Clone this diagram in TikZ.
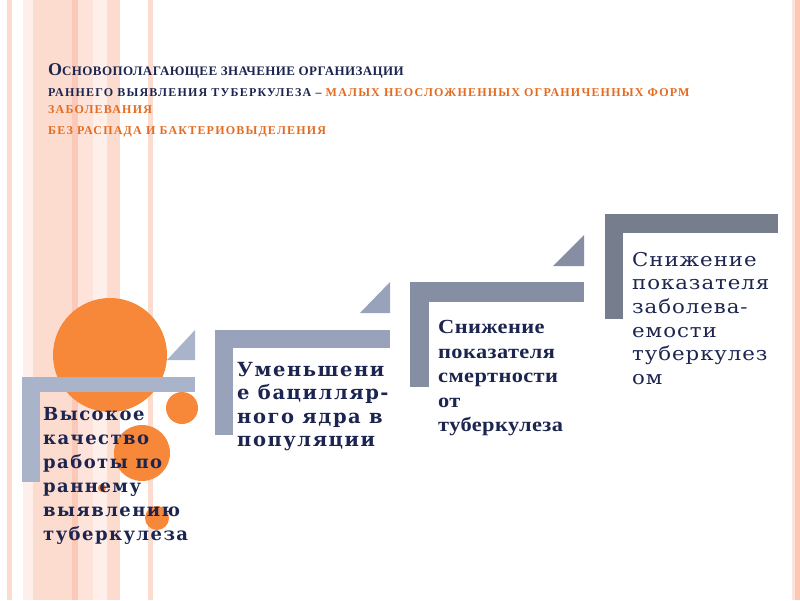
\documentclass[tikz,border=0pt]{standalone}
\usepackage{fontspec}
\setmainfont{Liberation Serif}
\newfontfamily\ttlbig[LetterSpace=3]{Liberation Serif}
\newfontfamily\ttlsmall[LetterSpace=10]{Liberation Serif}
\newfontfamily\stepAfont[LetterSpace=8]{DejaVu Serif}
\newfontfamily\stepCfont[FakeStretch=1.12,LetterSpace=2]{Liberation Serif}
\newfontfamily\stepDfont[FakeStretch=1.12,LetterSpace=5]{DejaVu Serif}
\definecolor{pkA}{HTML}{FDDCD0}
\definecolor{pkB}{HTML}{FCC9B8}
\definecolor{pkC}{HTML}{FEE3DA}
\definecolor{pkD}{HTML}{FFEFEA}
\definecolor{pkR}{HTML}{FEC7B3}
\definecolor{orng}{HTML}{F7883A}
\definecolor{navy}{HTML}{1C2550}
\definecolor{otext}{HTML}{E36C21}
\definecolor{gA}{HTML}{A9B4CB}
\definecolor{gB}{HTML}{98A3BB}
\definecolor{gC}{HTML}{858EA2}
\definecolor{gD}{HTML}{767D8C}
\tikzset{
  stripe/.style={fill=#1, draw=none},
  dot/.style={fill=orng, draw=none},
  bar/.style={fill=#1, draw=none},
  steptext/.style={anchor=north west, inner sep=0pt, align=left, text=navy},
}
\begin{document}
\begin{tikzpicture}[x=1pt,y=-1pt]
\useasboundingbox (0,0) rectangle (800,600);
\fill[white] (0,0) rectangle (800,600);
% stripes
\fill[stripe=pkA] (7,0) rectangle (12,600);
\fill[stripe=pkD] (23,0) rectangle (33,600);
\fill[stripe=pkA] (33,0) rectangle (72,600);
\fill[stripe=pkB] (72,0) rectangle (78,600);
\fill[stripe=pkC] (78,0) rectangle (93,600);
\fill[stripe=pkD] (93,0) rectangle (107,600);
\fill[stripe=pkA] (107,0) rectangle (120,600);
\fill[stripe=pkA] (148,0) rectangle (153,600);
\fill[stripe=pkC] (792,0) rectangle (795,600);
\fill[stripe=pkR] (795,0) rectangle (800,600);
% circles
\fill[dot] (110,355) circle (57);
\fill[dot] (182,408) circle (16);
\fill[dot] (142,453) circle (28);
\fill[dot] (102,488) circle (4);
\fill[dot] (157,518) circle (12);
% step 1
\fill[bar=gA] (22,377) rectangle (195,392);
\fill[bar=gA] (22,377) rectangle (40,482);
\fill[bar=gA] (167,360) -- (195,360) -- (195,330) -- cycle;
% step 2
\fill[bar=gB] (215,330) rectangle (390,348);
\fill[bar=gB] (215,330) rectangle (233,435);
\fill[bar=gB] (360,313) -- (390,313) -- (390,282) -- cycle;
% step 3
\fill[bar=gC] (410,282) rectangle (584,302);
\fill[bar=gC] (410,282) rectangle (429,387);
\fill[bar=gC] (553,266) -- (584,266) -- (584,235) -- cycle;
% step 4
\fill[bar=gD] (605,214) rectangle (778,233);
\fill[bar=gD] (605,214) rectangle (623,319);
% title
\node[anchor=north west, inner sep=0pt, align=left, font={\bfseries\fontsize{12}{17}\selectfont}] (title) at (48,63)
 {\textcolor{navy}{\ttlbig\fontsize{18}{17}\selectfont О\fontsize{13}{17}\selectfont СНОВОПОЛАГАЮЩЕЕ ЗНАЧЕНИЕ ОРГАНИЗАЦИИ}\\[4pt]
  \ttlsmall\textcolor{navy}{РАННЕГО ВЫЯВЛЕНИЯ ТУБЕРКУЛЕЗА –} \textcolor{otext}{МАЛЫХ НЕОСЛОЖНЕННЫХ ОГРАНИЧЕННЫХ ФОРМ}\\
  \ttlsmall\textcolor{otext}{ЗАБОЛЕВАНИЯ}\\[4pt]
  \ttlsmall\textcolor{otext}{БЕЗ РАСПАДА И БАКТЕРИОВЫДЕЛЕНИЯ}};
% step texts
\node[steptext, font={\stepAfont\bfseries\fontsize{18}{24}\selectfont}] (s1) at (43,407)
 {Высокое\\качество\\работы по\\раннему\\выявлению\\туберкулеза};
\node[steptext, font={\stepAfont\bfseries\fontsize{19.5}{23.5}\selectfont}] (s2) at (237,362)
 {Уменьшени\\е бацилляр-\\ного ядра в\\популяции};
\node[steptext, font={\stepCfont\bfseries\fontsize{20}{24.6}\selectfont}] (s3) at (438,320)
 {Снижение\\показателя\\смертности\\от\\туберкулеза};
\node[steptext, font={\stepDfont\fontsize{19}{23.6}\selectfont}] (s4) at (632,252)
 {Снижение\\показателя\\заболева-\\емости\\туберкулез\\ом};
\end{tikzpicture}
\end{document}
